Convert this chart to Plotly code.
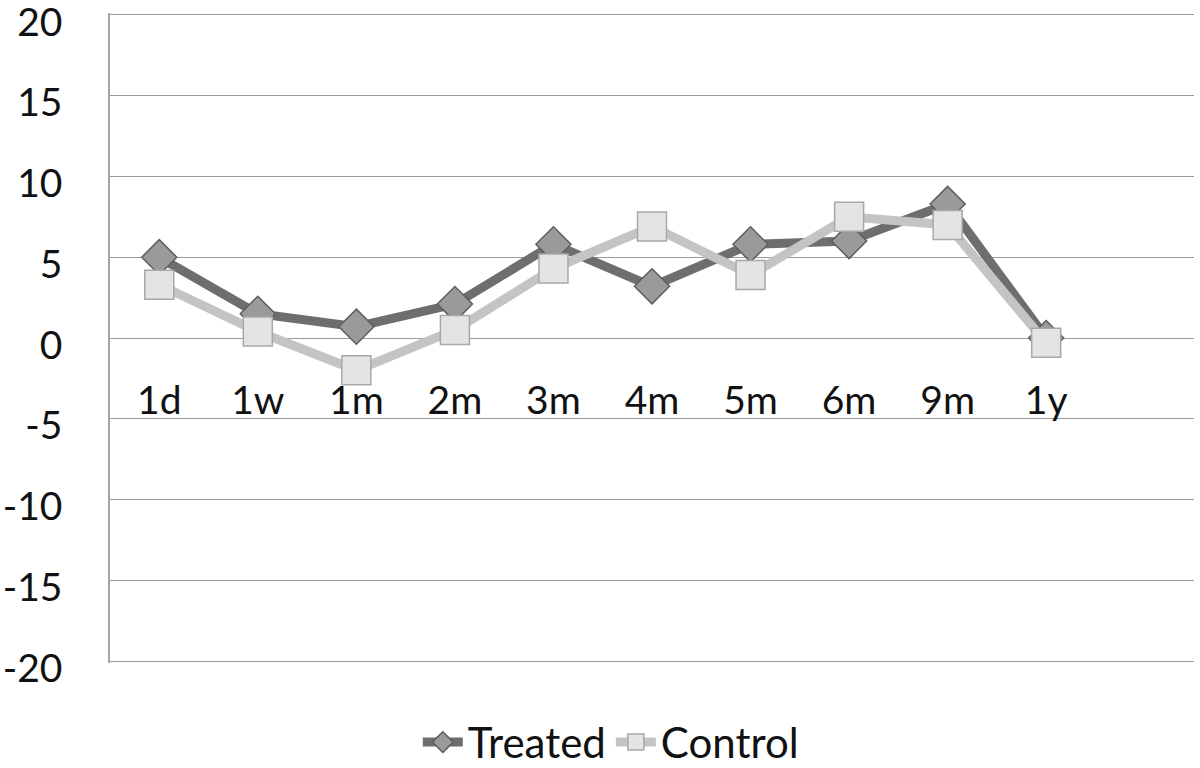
import plotly.graph_objects as go

categories = ["1d", "1w", "1m", "2m", "3m", "4m", "5m", "6m", "9m", "1y"]
treated = [5.0, 1.5, 0.7, 2.1, 5.8, 3.2, 5.8, 6.0, 8.3, 0.0]
control = [3.3, 0.4, -2.0, 0.5, 4.3, 6.9, 3.9, 7.5, 7.0, -0.3]
y_ticks = [20, 15, 10, 5, 0, -5, -10, -15, -20]

FONT = "Lato, 'Open Sans', sans-serif"

fig = go.Figure()
fig.add_trace(go.Scatter(
    x=list(range(len(categories))), y=treated, name="Treated",
    mode="lines+markers",
    line=dict(color="#6e6e6e", width=9),
    marker=dict(symbol="diamond", size=27, color="#9a9a9a",
                line=dict(color="#5e5e5e", width=1.5)),
))
fig.add_trace(go.Scatter(
    x=list(range(len(categories))), y=control, name="Control",
    mode="lines+markers",
    line=dict(color="#c4c4c4", width=9),
    marker=dict(symbol="square", size=29, color="#e4e4e4",
                line=dict(color="#a8a8a8", width=1.5)),
))

fig.update_layout(
    width=1200, height=768,
    margin=dict(l=110, r=6, t=13, b=105, autoexpand=False),
    paper_bgcolor="white", plot_bgcolor="white",
    font=dict(family=FONT, size=39, color="#111111"),
    showlegend=True,
    legend=dict(orientation="h", x=0.462, xanchor="center", y=-0.122, yanchor="middle",
                font=dict(size=42, family=FONT, color="#111111"),
                itemwidth=40, traceorder="normal"),
    xaxis=dict(
        range=[-0.5, 10.5], automargin=False,
        tickmode="array", tickvals=list(range(len(categories))), ticktext=categories,
        showgrid=False, zeroline=False, showline=False,
        anchor="free", position=0.5,
        ticks="outside", ticklen=28, tickcolor="rgba(0,0,0,0)",
        tickfont=dict(size=39, family=FONT),
    ),
    yaxis=dict(
        range=[-20.12, 20.12], automargin=False,
        tickmode="array", tickvals=y_ticks, ticktext=[str(v) for v in y_ticks],
        ticklabeloverflow="allow", ticklabelshift=7,
        showgrid=True, gridcolor="#9a9a9a", gridwidth=1.3,
        zeroline=True, zerolinecolor="#9a9a9a", zerolinewidth=1.3,
        showline=True, linecolor="#a6a6a6", linewidth=1.5,
        ticks="outside", ticklen=38, tickcolor="rgba(0,0,0,0)",
        tickfont=dict(size=39, family=FONT),
    ),
)

fig.write_html("out.html", config={"displayModeBar": False},
               post_script="document.body.style.margin='0';")
